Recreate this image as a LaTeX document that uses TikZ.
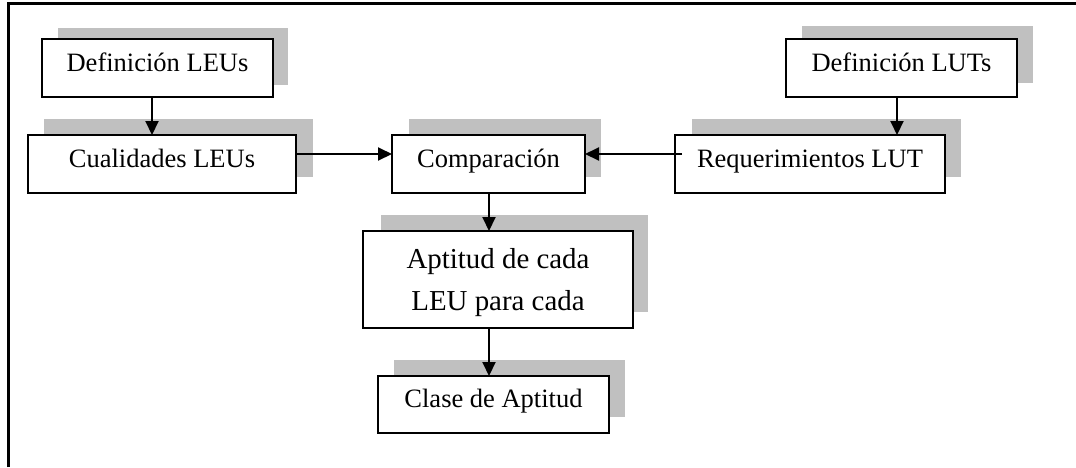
\documentclass[tikz,border=0pt]{standalone}
\usepackage{fontspec}
\setmainfont{Liberation Serif}
\usetikzlibrary{arrows.meta}
\definecolor{shadowgray}{RGB}{192,192,192}
\tikzset{
  shadowfill/.style={fill=shadowgray, draw=none},
  boxnode/.style={draw=black, line width=2.2pt, fill=white, rectangle, inner sep=0pt, outer sep=0pt,
    minimum height=58pt, text height=0.66em, text depth=0pt,
    font=\fontsize{26.5}{32}\selectfont},
  bigtext/.style={inner sep=0pt, anchor=base, font=\fontsize{28.9}{34}\selectfont},
  arr/.style={line width=2pt, -{Triangle[width=13pt,length=14pt]}},
  frame/.style={line width=2.2pt, draw=black}
}
\begin{document}
\begin{tikzpicture}[x=1pt,y=-1pt]
\useasboundingbox (0,0) rectangle (1076,467);
% frame
\draw[frame] (8.5,467) -- (8.5,3.5) -- (1076,3.5);
% shadows
\fill[shadowfill] (58,28) rectangle (288,85);
\fill[shadowfill] (44,119) rectangle (313,177);
\fill[shadowfill] (409,119) rectangle (601,177);
\fill[shadowfill] (692,119) rectangle (961,177);
\fill[shadowfill] (802,26) rectangle (1033,83);
\fill[shadowfill] (381,215) rectangle (648,312);
\fill[shadowfill] (394,360) rectangle (625,417);
% boxes
\node[boxnode, minimum width=231pt] (def1) at (157.5,68) {Definición LEUs};
\node[boxnode, minimum width=268pt] (cual) at (162,164) {Cualidades LEUs};
\node[boxnode, minimum width=193pt] (comp) at (488.5,164) {Comparación};
\node[boxnode, minimum width=270pt] (req) at (810,164) {Requerimientos LUT};
\node[boxnode, minimum width=231pt] (def2) at (901.5,68) {Definición LUTs};
\node[boxnode, minimum width=270pt, minimum height=97pt] (apt) at (498,279.5) {};
\node[bigtext] (apt1) at (498,268) {Aptitud de cada};
\node[bigtext] (apt2) at (498,310) {LEU para cada};
\node[boxnode, minimum width=231pt, minimum height=57pt] (clase) at (493.5,404.5) {Clase de Aptitud};
% connectors
\draw[arr] ([xshift=-5.5pt]def1.south) -- ([xshift=-5.5pt]def1.south |- cual.north);
\draw[arr] ([xshift=-4.5pt]def2.south) -- ([xshift=-4.5pt]def2.south |- req.north);
\draw[arr] ([yshift=10pt]cual.east) -- ([yshift=10pt]cual.east -| comp.west);
\draw[arr] ([xshift=7pt,yshift=10pt]req.west) -- ([yshift=10pt]req.west -| comp.east);
\draw[arr] ([xshift=0.5pt]comp.south) -- ([xshift=0.5pt]comp.south |- apt.north);
\draw[arr] ([xshift=-9pt]apt.south) -- ([xshift=-9pt]apt.south |- clase.north);
\end{tikzpicture}
\end{document}
